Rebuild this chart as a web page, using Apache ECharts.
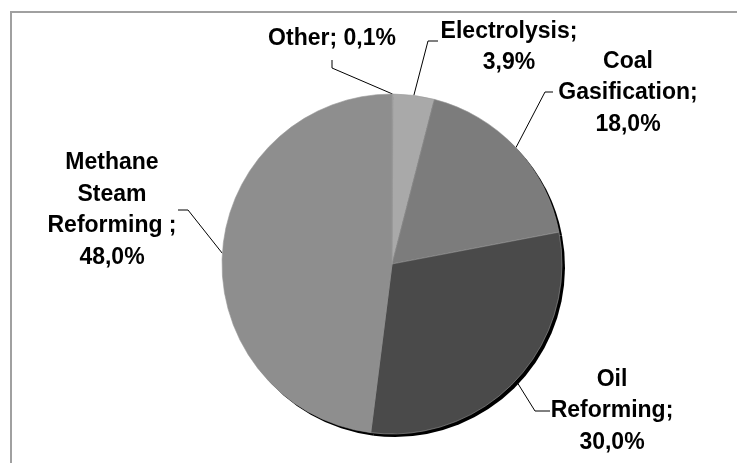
<!DOCTYPE html>
<html>
<head>
<meta charset="utf-8">
<script src="https://cdn.jsdelivr.net/npm/echarts@6/dist/echarts.min.js"></script>
<style>
  html, body { margin: 0; padding: 0; background: #fff; }
  #frame {
    position: absolute; left: 10px; top: 11px; width: 800px; height: 600px;
    border-left: 2px solid #a0a0a0; border-top: 2px solid #a0a0a0;
  }
  #chart { position: absolute; left: 0; top: 0; width: 737px; height: 463px; }
</style>
</head>
<body>
<div id="frame"></div>
<div id="chart"></div>
<script>
// data
const categories = ["Other", "Electrolysis", "Coal Gasification", "Oil Reforming", "Methane Steam Reforming"];
const labelNames = ["Other", "Electrolysis", "Coal\nGasification", "Oil\nReforming", "Methane\nSteam\nReforming "];
const shares = [0.1, 3.9, 18.0, 30.0, 48.0];
const colors = ["#a2a2a2", "#a9a9a9", "#7c7c7c", "#4a4a4a", "#8e8e8e"];

// label placement (centre of text block) and leader line shape
const labelPos = [[332, 39], [509, 47], [628, 93], [612, 411], [112, 210]];
const linePts = [
    [[332, 60], [332, 68]],
    [[438, 41], [428, 41]],
    [[553, 92], [545, 92]],
    [[550, 411], [535, 411]],
    [[178, 210], [188, 210]]
];

const pieData = categories.map((c, i) => ({
    name: c,
    value: shares[i],
    itemStyle: { color: colors[i] }
}));

const chart = echarts.init(document.getElementById("chart"));
chart.setOption({
    animation: false,
    series: [
        {
            // shadow underneath
            type: "pie",
            silent: true,
            center: [395, 267],
            radius: 170,
            startAngle: 90,
            data: shares.map((v, i) => ({ name: categories[i], value: v })),
            itemStyle: { color: "#000", borderWidth: 0 },
            label: { show: false },
            labelLine: { show: false }
        },
        {
            type: "pie",
            center: [392, 264],
            radius: 170,
            startAngle: 90,
            avoidLabelOverlap: false,
            data: pieData,
            itemStyle: { borderColor: "#9a9a9a", borderWidth: 0.6 },
            label: {
                show: true,
                position: "outside",
                color: "#000",
                fontFamily: "Liberation Sans, Arial, sans-serif",
                fontWeight: "bold",
                fontSize: 23,
                lineHeight: 31.5,
                align: "center",
                formatter: p => {
                    const i = p.dataIndex;
                    const sep = i === 0 ? " " : "\n";
                    return labelNames[i] + ";" + sep + shares[i].toFixed(1).replace(".", ",") + "%";
                }
            },
            labelLine: {
                show: true,
                lineStyle: { color: "#000", width: 1 }
            },
            labelLayout: params => {
                const i = params.dataIndex;
                const edge = params.labelLinePoints ? params.labelLinePoints[0] : linePts[i][1];
                return {
                    x: labelPos[i][0],
                    y: labelPos[i][1],
                    align: "center",
                    verticalAlign: "middle",
                    labelLinePoints: [linePts[i][0], linePts[i][1], edge]
                };
            }
        }
    ]
});
</script>
</body>
</html>
